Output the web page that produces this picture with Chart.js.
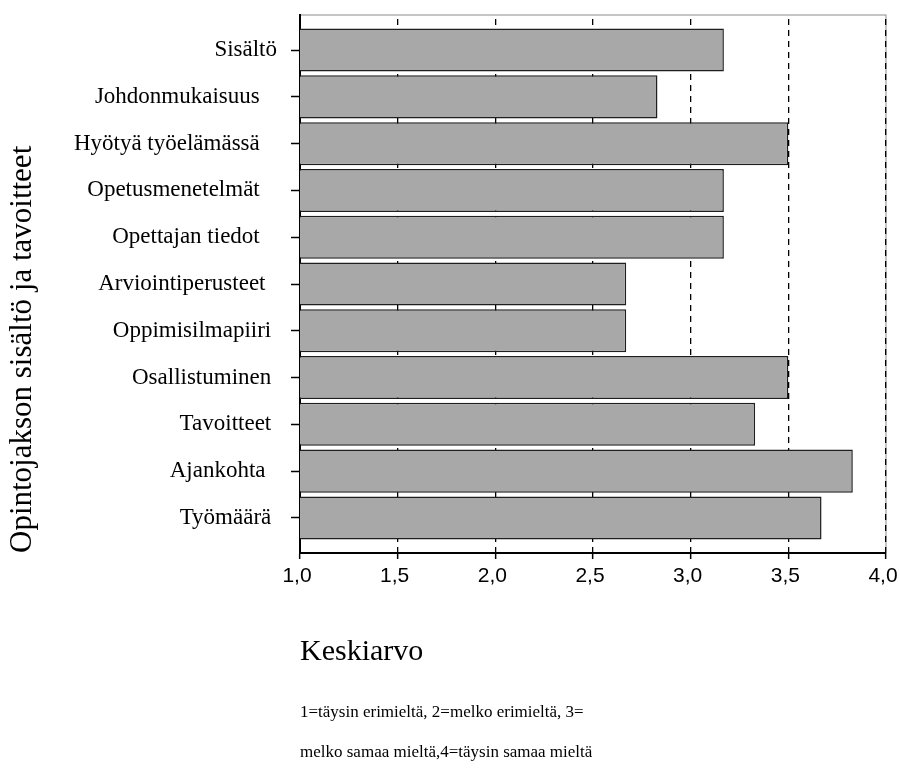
<!DOCTYPE html>
<html>
<head>
<meta charset="utf-8">
<script src="https://cdn.jsdelivr.net/npm/chart.js@4/dist/chart.umd.min.js"></script>
<style>
  html, body { margin: 0; padding: 0; background: #fff; }
</style>
</head>
<body>
<canvas id="chart" width="900" height="769"></canvas>
<script>
// chart data (top row first)
const categories = [
  "Sisältö",
  "Johdonmukaisuus   ",
  "Hyötyä työelämässä   ",
  "Opetusmenetelmät   ",
  "Opettajan tiedot   ",
  "Arviointiperusteet  ",
  "Oppimisilmapiiri ",
  "Osallistuminen ",
  "Tavoitteet ",
  "Ajankohta  ",
  "Työmäärä ",
];
const means = [3.17, 2.83, 3.5, 3.17, 3.17, 2.67, 2.67, 3.5, 3.33, 3.83, 3.67];
const xTickLabels = ["1,0", "1,5", "2,0", "2,5", "3,0", "3,5", "4,0"];
const footnotes = [
  "1=täysin erimieltä, 2=melko erimieltä, 3=",
  "melko samaa mieltä,4=täysin samaa mieltä",
];

const serif = '"Liberation Serif", "Times New Roman", serif';
const sans = '"Liberation Sans", Arial, sans-serif';
const last = categories.length - 1;

// grey frame under the grid + footnote text under the axis title
const framePlugin = {
  id: "frame",
  beforeDraw(chart) {
    const { ctx, chartArea: a } = chart;
    ctx.save();
    ctx.strokeStyle = "#8c8c8c";
    ctx.lineWidth = 1;
    ctx.strokeRect(a.left, a.top, a.right - a.left, a.bottom - a.top);
    ctx.restore();
  },
  afterDraw(chart) {
    const { ctx, chartArea: a } = chart;
    ctx.save();
    ctx.fillStyle = "#000";
    ctx.font = "17px " + serif;
    ctx.textBaseline = "middle";
    ctx.textAlign = "left";
    footnotes.forEach((line, i) => {
      ctx.fillText(line, a.left, chart.height - 56 + i * 40);
    });
    ctx.restore();
  },
};

const ctx = document.getElementById("chart").getContext("2d");
new Chart(ctx, {
  type: "bar",
  data: {
    datasets: [
      {
        label: "Keskiarvo",
        data: means.map((v, i) => ({ x: v, y: last - i })),
        backgroundColor: "#a8a8a8",
        borderColor: "#1e1e1e",
        borderWidth: 1.5,
        borderSkipped: false,
        barPercentage: 0.92,
        categoryPercentage: 1,
      },
    ],
  },
  options: {
    indexAxis: "y",
    responsive: false,
    animation: false,
    layout: { padding: { top: 15, right: 14, left: 0, bottom: 0 } },
    plugins: {
      legend: { display: false },
      tooltip: { enabled: false },
    },
    scales: {
      x: {
        type: "linear",
        min: 1,
        max: 4,
        afterFit(scale) {
          scale.height = 216;
          scale.paddingLeft = 0;
          scale.paddingRight = 0;
        },
        ticks: {
          stepSize: 0.5,
          color: "#000",
          padding: 5,
          labelOffset: -3,
          font: { family: sans, size: 21 },
          callback: (v, i) => xTickLabels[i],
        },
        grid: {
          color: "#000",
          lineWidth: 1.3,
          tickLength: 6,
          tickColor: "#000",
          tickWidth: 1.5,
          tickBorderDash: [],
        },
        border: { color: "#000", width: 2, dash: [6, 5], dashOffset: 7 },
        title: {
          display: true,
          text: "Keskiarvo",
          align: "start",
          color: "#000",
          font: { family: serif, size: 30 },
          padding: { top: 0, bottom: 99 },
        },
      },
      y: {
        type: "linear",
        min: -0.75,
        max: last + 0.75,
        offset: false,
        afterFit(scale) {
          scale.width = 300;
          scale.paddingTop = 0;
          scale.paddingBottom = 0;
        },
        afterBuildTicks(scale) {
          scale.ticks = categories.map((_, i) => ({ value: i }));
        },
        ticks: {
          color: "#000",
          padding: 14,
          autoSkip: false,
          font: { family: serif, size: 23 },
          callback: (v) => categories[last - v],
        },
        grid: {
          offset: false,
          drawOnChartArea: false,
          tickLength: 9,
          tickColor: "#000",
          tickWidth: 1.5,
        },
        border: { color: "#000", width: 2 },
        title: {
          display: true,
          text: "Opintojakson sisältö ja tavoitteet",
          align: "start",
          color: "#000",
          font: { family: serif, size: 31 },
          padding: { top: 4, bottom: 0 },
        },
      },
    },
  },
  plugins: [framePlugin],
});
</script>
</body>
</html>
